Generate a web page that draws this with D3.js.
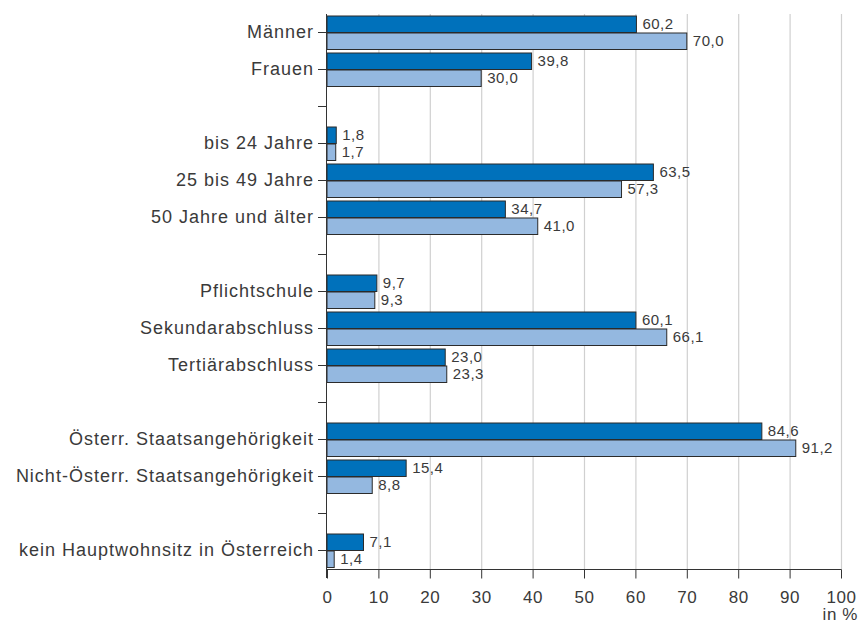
<!DOCTYPE html>
<html><head><meta charset="utf-8">
<script src="https://cdn.jsdelivr.net/npm/d3@7"></script>
<style>body{margin:0;background:#fff}svg{display:block}text{font-family:"Liberation Sans",Arial,sans-serif}</style>
</head><body><svg id="c" width="862" height="624"></svg>
<script>
const categories = ["Männer","Frauen","","bis 24 Jahre","25 bis 49 Jahre","50 Jahre und älter","","Pflichtschule","Sekundarabschluss","Tertiärabschluss","","Österr. Staatsangehörigkeit","Nicht-Österr. Staatsangehörigkeit","","kein Hauptwohnsitz in Österreich"];
const seriesA = [60.2,39.8,null,1.8,63.5,34.7,null,9.7,60.1,23.0,null,84.6,15.4,null,7.1];
const seriesB = [70.0,30.0,null,1.7,57.3,41.0,null,9.3,66.1,23.3,null,91.2,8.8,null,1.4];
const xTicks = [0,10,20,30,40,50,60,70,80,90,100];
const unitLabel = "in %";

const FONT = '"Liberation Sans",Arial,sans-serif';
const TXT = "#3a3a3a";
const svg = d3.select("#c");
const x = d3.scaleLinear().domain([0,100]).range([327,841]);
const y = d3.scaleBand().domain(d3.range(categories.length)).range([14,569]).padding(0);
const fmt = v => d3.format(".1f")(v).replace(".", ",");
const bh = 17;

// grid
svg.append("g").selectAll("line").data(xTicks.slice(1)).join("line")
  .attr("x1", d=>x(d)+0.5).attr("x2", d=>x(d)+0.5).attr("y1", 14).attr("y2", 569)
  .attr("stroke", "#d0d0d0").attr("stroke-width", 1.2);

// bars
const rows = categories.map((c,i)=>({c,i,a:seriesA[i],b:seriesB[i]})).filter(d=>d.a!=null);
const g = svg.append("g");
rows.forEach(d=>{
  const cy = y(d.i) + y.bandwidth()/2;
  g.append("rect").attr("x", x(0)).attr("y", cy-bh+0.5).attr("width", x(d.a)-x(0)).attr("height", bh-0.5)
    .attr("fill", "#0071bb").attr("stroke", "#2b2b2b").attr("stroke-width", 1);
  g.append("rect").attr("x", x(0)).attr("y", cy+0.5).attr("width", x(d.b)-x(0)).attr("height", bh-0.5)
    .attr("fill", "#94b8e0").attr("stroke", "#2b2b2b").attr("stroke-width", 1);
  g.append("text").attr("x", x(d.a)+6).attr("y", cy-4).text(fmt(d.a))
    .attr("font-size", 15).attr("letter-spacing", 0.5).attr("fill", TXT);
  g.append("text").attr("x", x(d.b)+6).attr("y", cy+13).text(fmt(d.b))
    .attr("font-size", 15).attr("letter-spacing", 0.5).attr("fill", TXT);
});

// y axis
const yAxis = d3.axisLeft(y).tickSize(9).tickPadding(4).tickFormat(i=>categories[i]);
const ya = svg.append("g").attr("transform", `translate(${x(0)},0)`).call(yAxis);
ya.select(".domain").attr("d", `M-0.5,14V578`).attr("stroke", "#333");
ya.selectAll(".tick line").attr("stroke", "#333");
ya.selectAll(".tick text").attr("font-size", 18).attr("letter-spacing", 1.0).attr("fill", TXT).attr("font-family", FONT);

// x axis
const xAxis = d3.axisBottom(x).tickValues(xTicks).tickSize(9).tickPadding(12).tickFormat(d3.format("d"));
const xa = svg.append("g").attr("transform", `translate(0,569.5)`).call(xAxis);
xa.select(".domain").attr("d", `M${x(0)},0H${x(100)+0.5}`).attr("stroke", "#333");
xa.selectAll(".tick line").attr("stroke", "#333");
xa.selectAll(".tick text").attr("font-size", 17).attr("letter-spacing", 0.6).attr("fill", TXT).attr("font-family", FONT);

svg.append("text").attr("x", 858).attr("y", 620).attr("text-anchor", "end")
  .attr("font-size", 17).attr("letter-spacing", 0.6).attr("fill", TXT).text(unitLabel);
</script></body></html>
